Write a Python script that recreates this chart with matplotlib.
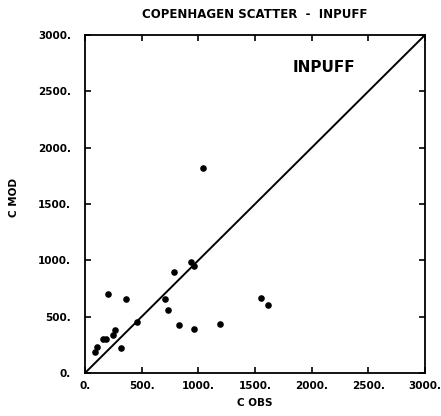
import matplotlib
matplotlib.use("Agg")
import matplotlib.pyplot as plt

c_obs = [88, 102, 161, 181, 205, 249, 269, 322, 366, 462, 710, 731, 783, 833,
         936, 959, 965, 1044, 1193, 1550, 1614]
c_mod = [188, 232, 306, 306, 703, 335, 379, 226, 653, 453, 653, 556, 900, 423,
         988, 953, 394, 1817, 438, 664, 600]
ticks = [0, 500, 1000, 1500, 2000, 2500, 3000]
tick_labels = ["0.", "500.", "1000.", "1500.", "2000.", "2500.", "3000."]

fig = plt.figure(figsize=(4.41, 4.16), dpi=100)
ax = fig.add_axes([85/441, 1 - 373/416, 340/441, 338/416])
ax.set_xlim(0, 3000)
ax.set_ylim(0, 3000)
ax.plot([0, 3000], [0, 3000], color="black", lw=1.4)
ax.scatter(c_obs, c_mod, s=14, color="black", zorder=3)

ax.set_xticks(ticks)
ax.set_yticks(ticks)
ax.set_xticklabels(tick_labels, fontsize=7.5, fontweight="bold")
ax.set_yticklabels(tick_labels, fontsize=7.5, fontweight="bold")
ax.tick_params(direction="in", length=4, width=1.2, top=True, right=True)
ax.tick_params(axis="x", pad=6)
ax.tick_params(axis="y", pad=10)
for s in ax.spines.values():
    s.set_linewidth(1.3)

ax.set_xlabel("C OBS", fontsize=7.5, fontweight="bold", labelpad=5)
ax.set_ylabel("C MOD", fontsize=7.5, fontweight="bold")
ax.yaxis.set_label_coords(-66/340, 0.52)
ax.set_title("COPENHAGEN SCATTER  -  INPUFF", fontsize=8.5, fontweight="bold", pad=12)
ax.text(0.61, 0.905, "INPUFF", transform=ax.transAxes, fontsize=11,
        fontweight="bold", ha="left", va="center")

fig.savefig("out.png", dpi=100)
